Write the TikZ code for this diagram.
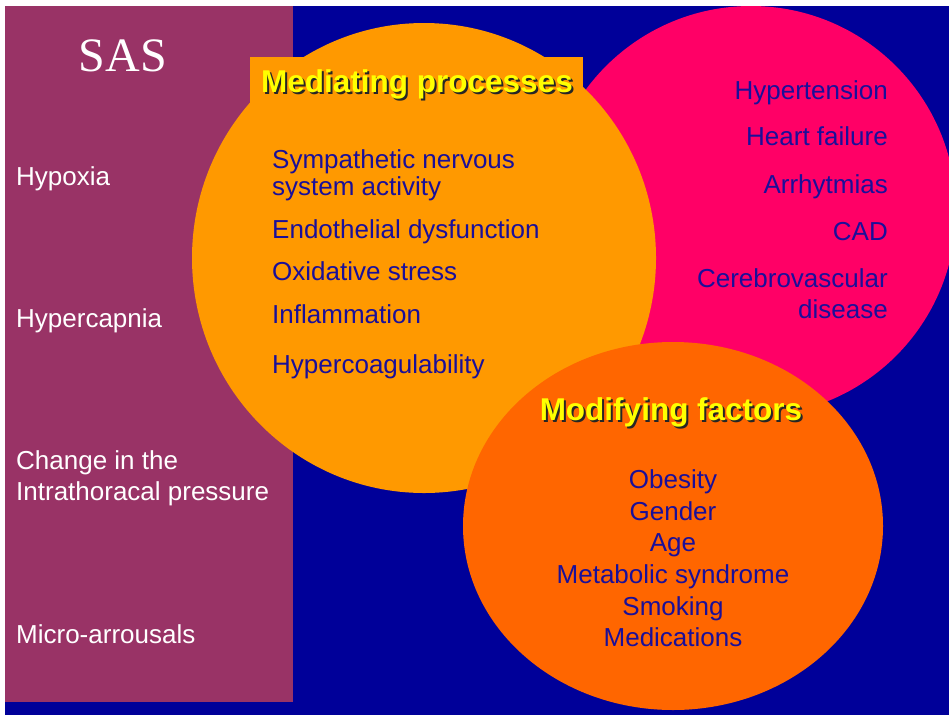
\documentclass[tikz,border=0pt]{standalone}
\usepackage{fontspec}
\setmainfont{Liberation Sans}
\newfontfamily\serifsas{Liberation Serif}
\definecolor{bgblue}{HTML}{000099}
\definecolor{sasplum}{HTML}{993366}
\definecolor{medorange}{HTML}{FF9900}
\definecolor{outpink}{HTML}{FF0066}
\definecolor{modorange}{HTML}{FF6600}
\definecolor{txtblue}{HTML}{1A0F99}
\definecolor{ttlyellow}{HTML}{FFFF00}
\newcommand{\shadowtext}[1]{\makebox[0pt][l]{\hspace{2pt}\raisebox{-2pt}{\textcolor{black!85}{#1}}}\textcolor{ttlyellow}{#1}}
\begin{document}
\begin{tikzpicture}[x=1pt,y=-1pt,
  itemtxt/.style={inner sep=0pt,font=\fontsize{26}{31}\selectfont},
  blueitem/.style={itemtxt,text=txtblue},
  whiteitem/.style={itemtxt,text=white},
  ttltxt/.style={inner sep=0pt,font=\fontsize{31.5}{36}\selectfont\bfseries,anchor=base}]
\useasboundingbox (0,0) rectangle (949,715);
\fill[white] (0,0) rectangle (949,715);
\fill[bgblue] (5,6) rectangle (949,715);
\fill[sasplum] (5,6) rectangle (293,702);
% outcome circle
\begin{scope}
\clip (5,6) rectangle (949,715);
\fill[outpink] (751,211) circle[radius=205pt];
\end{scope}
% mediating circle
\fill[medorange] (424,258) ellipse[x radius=232pt, y radius=235pt];
\fill[medorange] (250,57) rectangle (583,103);
% modifying circle
\fill[modorange] (673,526) ellipse[x radius=210pt, y radius=184pt];

% SAS column
\node[inner sep=0pt,anchor=base,text=white,font=\serifsas\fontsize{48}{50}\selectfont] (sas) at (123,71) {SAS};
\node[whiteitem,anchor=base west] (hypoxia) at (16,185) {Hypoxia};
\node[whiteitem,anchor=base west] (hypercap) at (16,327) {Hypercapnia};
\node[whiteitem,anchor=base west] (change1) at (16,469) {Change in the};
\node[whiteitem,anchor=base west] (change2) at (16,500) {Intrathoracal pressure};
\node[whiteitem,anchor=base west] (micro) at (16,643) {Micro-arrousals};

% mediating processes
\node[ttltxt] (medtitle) at (417,92) {\shadowtext{Mediating processes}};
\node[blueitem,anchor=base west] (symp1) at (272,168) {Sympathetic nervous};
\node[blueitem,anchor=base west] (symp2) at (272,195) {system activity};
\node[blueitem,anchor=base west] (endo) at (272,238) {Endothelial dysfunction};
\node[blueitem,anchor=base west] (oxid) at (272,280) {Oxidative stress};
\node[blueitem,anchor=base west] (infl) at (272,323) {Inflammation};
\node[blueitem,anchor=base west] (hcoag) at (272,373) {Hypercoagulability};

% outcomes
\node[blueitem,anchor=base east] (htn) at (888,99) {Hypertension};
\node[blueitem,anchor=base east] (hf) at (888,145) {Heart failure};
\node[blueitem,anchor=base east] (arr) at (888,193) {Arrhytmias};
\node[blueitem,anchor=base east] (cad) at (888,240) {CAD};
\node[blueitem,anchor=base east] (cvd1) at (888,287) {Cerebrovascular};
\node[blueitem,anchor=base east] (cvd2) at (888,318) {disease};

% modifying factors
\node[ttltxt] (modtitle) at (671,420) {\shadowtext{Modifying factors}};
\node[blueitem,anchor=base] (obes) at (673,488) {Obesity};
\node[blueitem,anchor=base] (gend) at (673,520) {Gender};
\node[blueitem,anchor=base] (age) at (673,551) {Age};
\node[blueitem,anchor=base] (metab) at (673,583) {Metabolic syndrome};
\node[blueitem,anchor=base] (smok) at (673,615) {Smoking};
\node[blueitem,anchor=base] (medic) at (673,646) {Medications};
\end{tikzpicture}
\end{document}
